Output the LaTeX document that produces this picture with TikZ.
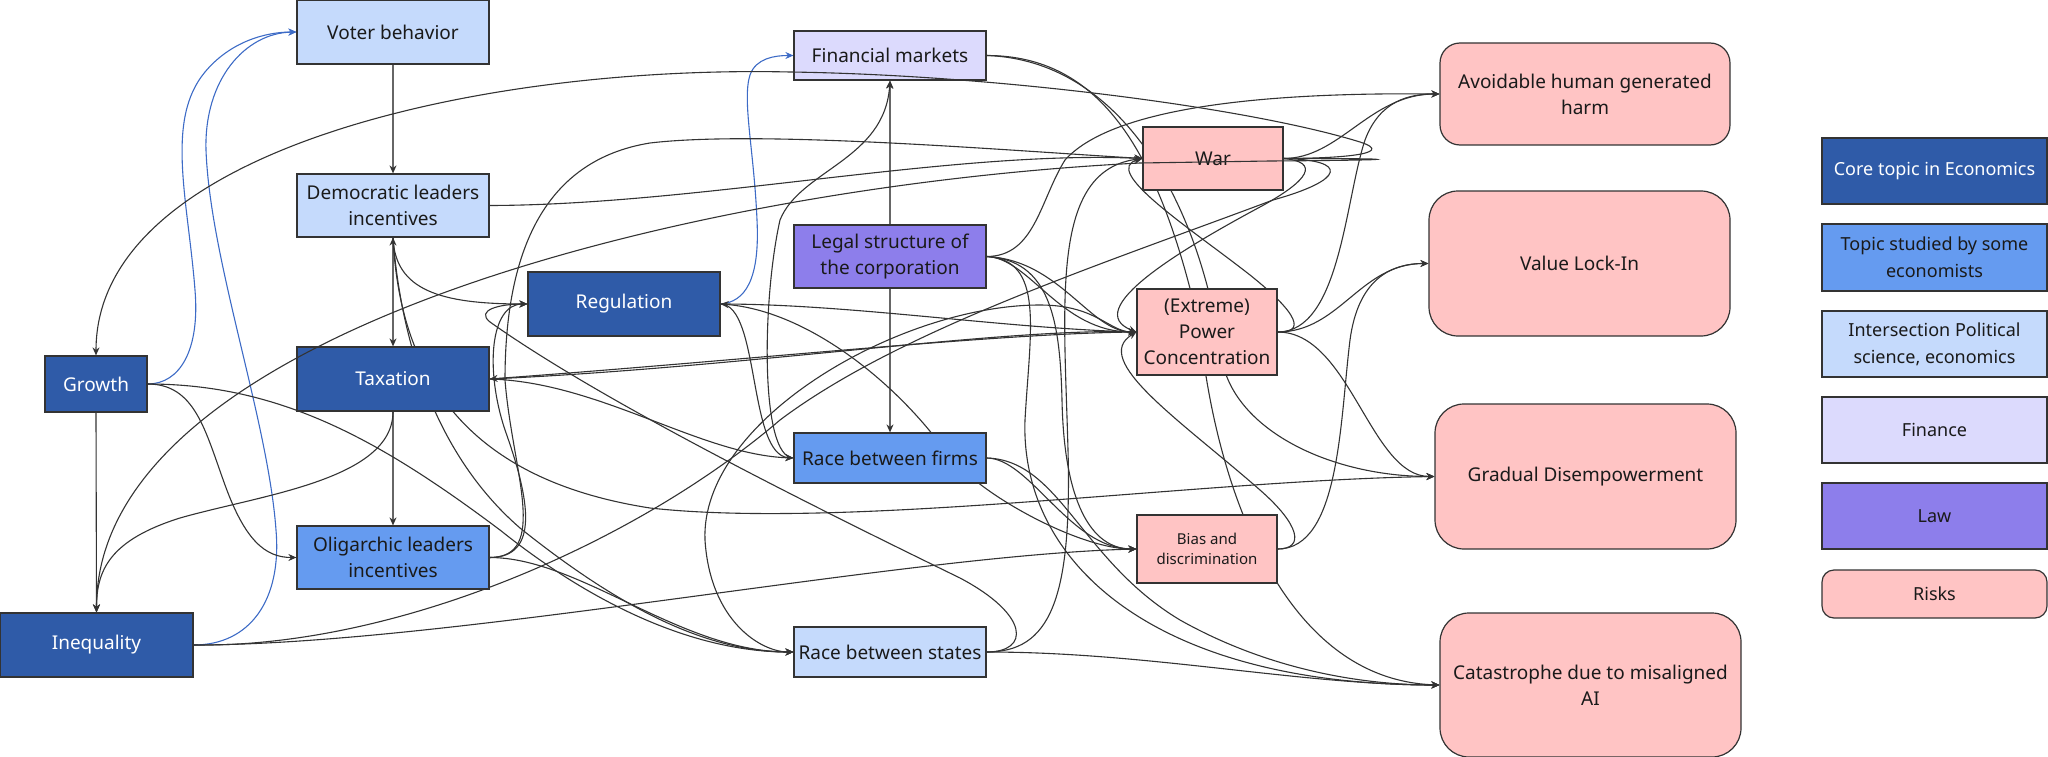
\documentclass[tikz,border=0pt]{standalone}
\usepackage{fontspec}
\setmainfont{Noto Sans}
\usetikzlibrary{arrows.meta,backgrounds}
\definecolor{corecol}{HTML}{2F5BA8}
\definecolor{topiccol}{HTML}{659BF0}
\definecolor{intercol}{HTML}{C5DAFC}
\definecolor{fincol}{HTML}{DCDAFD}
\definecolor{lawcol}{HTML}{8D7EEB}
\definecolor{riskcol}{HTML}{FFC4C4}
\definecolor{bordercol}{HTML}{333333}
\definecolor{edgecol}{HTML}{333333}
\definecolor{graycol}{HTML}{666666}
\definecolor{bluecol}{HTML}{3D6BC6}
\definecolor{textcol}{HTML}{1A1A1A}

\begin{document}
\begin{tikzpicture}[
		x=1pt, y=-1pt,
		box/.style={draw=bordercol, line width=1.2, minimum width=192, minimum height=64,
			inner sep=0, align=center, text=textcol, font=\fontsize{19}{26}\selectfont},
		core/.style={box, fill=corecol, text=white},
		topic/.style={box, fill=topiccol},
		inter/.style={box, fill=intercol},
		finance/.style={box, fill=fincol},
		law/.style={box, fill=lawcol},
		risk/.style={box, fill=riskcol, minimum width=140},
		riskbig/.style={box, fill=riskcol, rounded corners=29, minimum width=301, minimum height=145},
		legend/.style={minimum width=225, minimum height=66, font=\fontsize{18}{27}\selectfont},
		edge/.style={draw=edgecol, line width=1.1, -{Stealth[length=8pt,width=7pt]}},
		plain/.style={draw=edgecol, line width=1.1},
		link/.style={draw=graycol, line width=1.1, -{Stealth[length=8pt,width=7pt,color=edgecol]}},
		twoway/.style={draw=graycol, line width=1.1,
			{Stealth[length=8pt,width=7pt,color=edgecol]}-{Stealth[length=8pt,width=7pt,color=edgecol]}},
		blueedge/.style={draw=bluecol, line width=1.1, -{Stealth[length=8pt,width=7pt]}}]
		\useasboundingbox (0,0) rectangle (2048,757);

		% topics
		\node[inter] (voter) at (393,32) {Voter behavior};
		\node[inter, minimum height=63] (dem) at (393,205.5) {Democratic leaders\\incentives};
		\node[core, minimum width=102, minimum height=56] (growth) at (96,384) {Growth};
		\node[core] (tax) at (393,379) {Taxation};
		\node[topic, minimum height=63] (olig) at (393,557.5) {Oligarchic leaders\\incentives};
		\node[core, minimum width=193] (ineq) at (96.5,645) {Inequality};
		\node[finance, minimum height=49] (fin) at (890,55.5) {Financial markets};
		\node[law, minimum height=63] (legal) at (890,256.5) {Legal structure of\\the corporation};
		\node[core] (reg) at (624,304) {Regulation};
		\node[topic, minimum height=50] (firms) at (890,458) {Race between firms};
		\node[inter, minimum height=50] (states) at (890,652) {Race between states};

		% risks
		\node[risk, minimum height=63] (war) at (1213,158.5) {War};
		\node[risk, minimum height=86] (power) at (1207,332) {(Extreme)\\Power\\Concentration};
		\node[risk, minimum height=68, font=\fontsize{15}{20.5}\selectfont] (bias) at (1207,549) {Bias and\\discrimination};
		\node[box, fill=riskcol, rounded corners=20, minimum width=290, minimum height=102] (avoid) at (1585,94) {Avoidable human generated\\harm};
		\node[riskbig] (lock) at (1579.5,263.5) {Value Lock-In};
		\node[riskbig] (grad) at (1585.5,476.5) {Gradual Disempowerment};
		\node[riskbig, minimum height=144] (cat) at (1590.5,685) {Catastrophe due to misaligned\\AI};

		% legend
		\node[core, legend] (lcore) at (1934.5,171) {Core topic in Economics};
		\node[topic, legend, minimum height=67] (ltopic) at (1934.5,257.5) {Topic studied by some\\economists};
		\node[inter, legend] (linter) at (1934.5,344) {Intersection Political\\science, economics};
		\node[finance, legend] (lfin) at (1934.5,430) {Finance};
		\node[law, legend] (llaw) at (1934.5,516) {Law};
		\node[box, fill=riskcol, legend, rounded corners=12, minimum height=48] (lrisk) at (1934.5,594) {Risks};

		\begin{scope}[on background layer]
		% straight links
		\draw[link] (voter.south) -- (dem.north);
		\draw[twoway] (dem.south) -- (tax.north);
		\draw[link] (tax.south) -- (olig.north);
		\draw[edge] (growth.south) -- (ineq.north);
		\draw[link] (legal.north) -- (fin.south);
		\draw[link] (legal.south) -- (firms.north);

		% blue links
		\draw[blueedge] (growth.east) .. controls (180,384) and (200,350) .. (195,290) .. controls (188,200) and (165,120) .. (205,72) .. controls (230,42) and (265,32) .. (voter.west);
		\draw[blueedge] (ineq.east) .. controls (250,645) and (282,600) .. (276,530) .. controls (268,420) and (210,260) .. (206,150) .. controls (204,80) and (245,33) .. (voter.west);
		\draw[blueedge] (reg.east) .. controls (745,302) and (760,280) .. (757,220) .. controls (754,150) and (742,100) .. (750,75) .. controls (756,58) and (775,55.5) .. (fin.west);

		% left part
		\draw[edge] (growth.east) .. controls (195,384) and (205,430) .. (225,485) .. controls (245,540) and (265,557.5) .. (olig.west);
		\draw[edge] (growth.east) .. controls (280,384) and (380,440) .. (500,530) .. controls (600,610) and (700,652) .. (states.west);
		\draw[edge] (tax.south) .. controls (393,480) and (260,495) .. (180,518) .. controls (110,540) and (96.5,570) .. (ineq.north);
		\draw[edge] (dem.south) .. controls (395,290) and (440,304) .. (reg.west);
		\draw[edge] (dem.east) .. controls (700,205) and (950,150) .. (war.west);
		\draw[edge] (dem.south) .. controls (400,330) and (430,450) .. (520,528) .. controls (610,600) and (700,652) .. (states.west);
		\draw[edge] (dem.south) .. controls (400,380) and (470,480) .. (650,508) .. controls (850,530) and (1200,480) .. (grad.west);
		\draw[edge] (olig.east) .. controls (540,557.5) and (530,500) .. (505,430) .. controls (485,370) and (490,304) .. (reg.west);
		\draw[edge] (olig.east) .. controls (550,557.5) and (512,470) .. (505,380) .. controls (505,250) and (545,160) .. (650,143) .. controls (760,130) and (1000,150) .. (war.west);
		\draw[edge] (olig.east) .. controls (580,557.5) and (680,652) .. (states.west);
		\draw[edge] (ineq.east) .. controls (450,645) and (900,555) .. (bias.west);
		\draw[plain] (war.east) .. controls (1350,160) and (1345,180) .. (1273,200) .. controls (1100,265) and (900,330) .. (780,420) .. controls (640,540) and (400,648) .. (ineq.east);

		% middle part
		\draw[edge] (tax.east) .. controls (600,382) and (700,455) .. (firms.west);
		\draw[edge] (power.west) .. controls (1000,333) and (750,360) .. (tax.east);
		\draw[edge] (tax.east) .. controls (740,368) and (1000,328) .. (power.west);
		\draw[edge] (reg.east) .. controls (760,305) and (748,455) .. (firms.west);
		\draw[edge] (firms.west) .. controls (760,458) and (762,300) .. (780,220) .. controls (800,170) and (885,160) .. (fin.south);
		\draw[edge] (firms.32) .. controls (880,370) and (800,310) .. (reg.east);
		\draw[edge] (reg.east) .. controls (850,304) and (1000,328) .. (power.west);
		\draw[edge] (states.east) .. controls (1030,652) and (1030,615) .. (960,578) .. controls (800,500) and (600,400) .. (490,322) .. controls (475,310) and (500,304) .. (reg.west);
		\draw[edge] (power.west) .. controls (1110,335) and (1100,305) .. (1040,305) .. controls (900,305) and (700,420) .. (705,540) .. controls (710,620) and (760,652) .. (states.west);

		% legal structure
		\draw[edge] (legal.east) .. controls (1035,256.5) and (1040,200) .. (1065,160) .. controls (1110,110) and (1250,92) .. (avoid.west);
		\draw[edge] (legal.east) .. controls (1060,260) and (1090,332) .. (power.west);
		\draw[edge] (legal.east) .. controls (1030,258) and (1060,332) .. (power.west);
		\draw[edge] (legal.east) .. controls (1045,260) and (1030,330) .. (1025,420) .. controls (1020,560) and (1150,685) .. (cat.west);
		\draw[edge] (legal.east) .. controls (1050,260) and (1060,320) .. (1062,400) .. controls (1064,500) and (1090,549) .. (bias.west);

		% races
		\draw[edge] (states.east) .. controls (1050,652) and (1072,600) .. (1068,450) .. controls (1064,300) and (1050,170) .. (war.west);
		\draw[edge] (states.east) .. controls (1150,652) and (1300,685) .. (cat.west);
		\draw[edge] (firms.east) .. controls (1030,458) and (1070,549) .. (bias.west);
		\draw[edge] (firms.east) .. controls (1060,460) and (1080,560) .. (1180,620) .. controls (1260,665) and (1350,685) .. (cat.west);
		\draw[edge] (firms.-16) .. controls (1020,515) and (1090,549) .. (bias.west);

		% risks to risks
		\draw[edge] (war.east) .. controls (1340,158.5) and (1370,94) .. (avoid.west);
		\draw[edge] (war.east) .. controls (1320,162) and (1310,180) .. (1260,207) .. controls (1180,250) and (1080,310) .. (power.west);
		\draw[edge] (power.east) .. controls (1340,332) and (1345,200) .. (1365,140) .. controls (1380,100) and (1410,94) .. (avoid.west);
		\draw[edge] (power.east) .. controls (1340,332) and (1360,263.5) .. (lock.west);
		\draw[edge] (power.east) .. controls (1350,332) and (1370,476.5) .. (grad.west);
		\draw[edge] (power.east) .. controls (1305,333) and (1300,315) .. (1250,275) .. controls (1190,228) and (1100,170) .. (war.west);
		\draw[edge] (bias.east) .. controls (1340,549) and (1340,420) .. (1350,340) .. controls (1358,280) and (1390,263.5) .. (lock.west);
		\draw[edge] (bias.east) .. controls (1305,549) and (1300,525) .. (1260,490) .. controls (1180,420) and (1090,360) .. (power.west);
		\draw[edge] (fin.east) .. controls (1100,55.5) and (1160,150) .. (1200,330) .. controls (1215,480) and (1280,680) .. (cat.west);
		\draw[edge] (fin.east) .. controls (1120,60) and (1200,200) .. (1222,360) .. controls (1235,430) and (1330,476.5) .. (grad.west);
		\end{scope}

		% drawn over the boxes
		\draw[edge] (war.east) .. controls (1330,158.5) and (1400,155) .. (1360,142) .. controls (1250,108) and (1000,75) .. (790,72) .. controls (480,65) and (96,150) .. (growth.north);
		\draw[edge] (war.east) .. controls (1410,158.5) and (1410,160) .. (1270,161) -- (1140,163) .. controls (700,185) and (96,330) .. (ineq.north);
\end{tikzpicture}
\end{document}
